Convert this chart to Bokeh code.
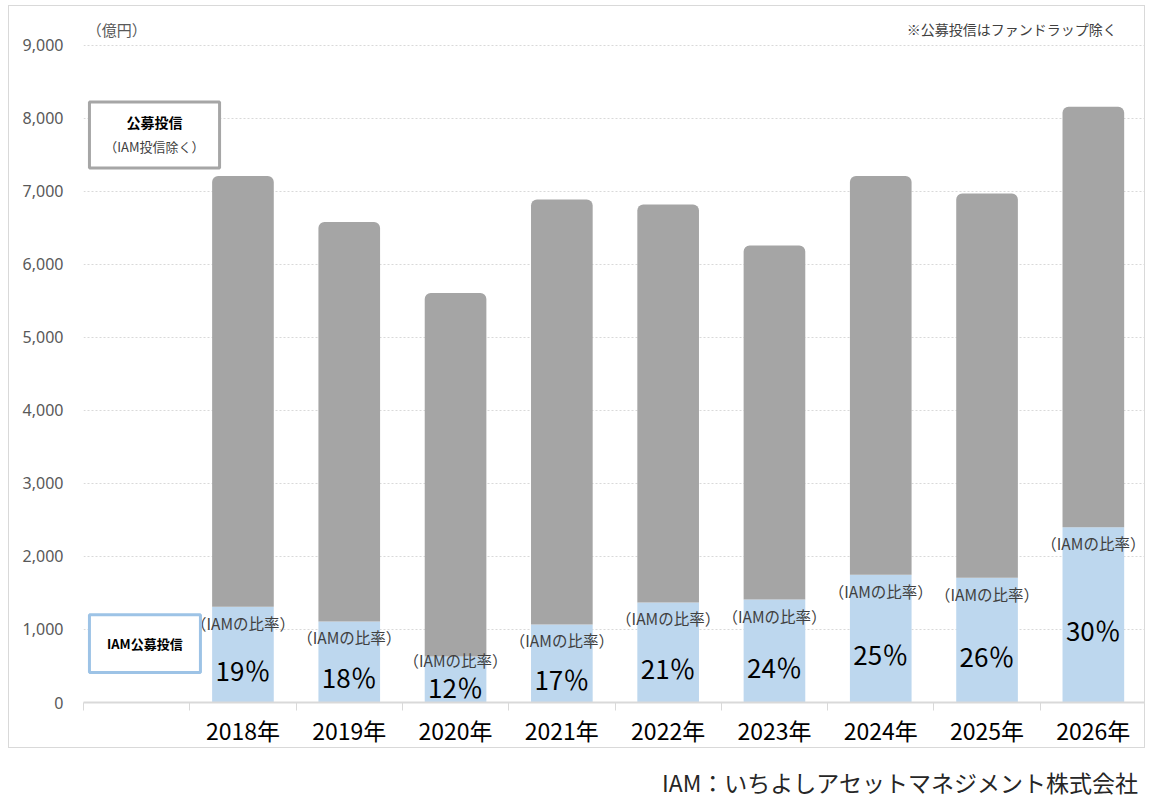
import numpy as np
from bokeh.plotting import figure
from bokeh.models import (Range1d, FixedTicker, NumeralTickFormatter, BoxAnnotation,
                          Label, ColumnDataSource)
from bokeh.layouts import column
from bokeh.embed import file_html
from bokeh.resources import INLINE
from bokeh.core.properties import value

# ---------------- data ----------------
years = ["2018年", "2019年", "2020年", "2021年", "2022年", "2023年", "2024年", "2025年", "2026年"]
iam_funds = [1310, 1110, 630, 1070, 1370, 1410, 1750, 1710, 2400]          # IAM公募投信 (億円)
other_funds = [5900, 5470, 4980, 5820, 5450, 4850, 5460, 5260, 5760]       # 公募投信（IAM投信除く）
iam_share = [19, 18, 12, 17, 21, 24, 25, 26, 30]                            # IAMの比率 (%)
y_ticks = [0, 1000, 2000, 3000, 4000, 5000, 6000, 7000, 8000, 9000]

JP = "Noto Sans CJK JP"
GRAY = "#a5a5a5"
BLUE = "#bdd7ee"

n_slots = len(years) + 1   # first category slot is empty
x = np.arange(1, n_slots) + 0.5
iam = np.array(iam_funds, dtype=float)
total = iam + np.array(other_funds, dtype=float)

# label anchors: percentage in the middle of the blue bar (kept above the axis),
# "(IAMの比率)" just under the blue top (kept clear of the percentage)
pct_y = np.maximum(iam / 2, 420)
ratio_y = np.maximum(iam, pct_y + 386)

src = ColumnDataSource(dict(
    x=x, iam=iam, total=total, pct_y=pct_y, ratio_y=ratio_y,
    ratio=["（IAMの比率）"] * len(years),
    pct=[f"{v}％" for v in iam_share],
))

p = figure(width=1137, height=743, output_backend="svg", toolbar_location=None,
           x_range=Range1d(0, n_slots), y_range=Range1d(0, 9464),
           min_border_left=74, min_border_right=0, min_border_top=5, min_border_bottom=45,
           outline_line_color=None, background_fill_color="white", border_fill_color="white")
p.margin = (5, 0, 0, 8)
p.styles = {"border": "1px solid #d9d9d9"}

# bars
p.vbar(x="x", top="iam", bottom=0, width=0.58, source=src, fill_color=BLUE, line_color=None)
p.vbar(x="x", top="total", bottom="iam", width=0.58, source=src, fill_color=GRAY,
       line_color=None, border_radius=(6, 6, 0, 0))

# labels on bars
p.text(x="x", y="ratio_y", text="ratio", source=src, text_align="center", text_baseline="middle",
       y_offset=16, text_font=value(JP), text_font_size="15.5px", text_color="#404040")
p.text(x="x", y="pct_y", text="pct", source=src, text_align="center", text_baseline="middle",
       y_offset=15, text_font=value(JP), text_font_size="26px", text_color="#000000")

# axes
xa = p.xaxis[0]
xa.ticker = FixedTicker(ticks=list(x), minor_ticks=list(np.arange(0, n_slots + 1)))
xa.major_label_overrides = {float(xx): yr for xx, yr in zip(x, years)}
xa.major_tick_line_color = None
xa.major_tick_out = 0
xa.major_tick_in = 0
xa.minor_tick_in = 0
xa.minor_tick_out = 8
xa.minor_tick_line_color = "#d9d9d9"
xa.axis_line_color = "#d9d9d9"
xa.axis_line_width = 2
xa.major_label_standoff = 2
xa.major_label_text_font = JP
xa.major_label_text_font_size = "23px"
xa.major_label_text_color = "#000000"

ya = p.yaxis[0]
ya.ticker = FixedTicker(ticks=y_ticks)
ya.formatter = NumeralTickFormatter(format="0,0")
ya.axis_line_color = None
ya.major_tick_line_color = None
ya.minor_tick_line_color = None
ya.major_tick_out = 0
ya.major_label_standoff = 20
ya.major_label_text_font = "Noto Sans"
ya.major_label_text_font_size = "16px"
ya.major_label_text_color = "#595959"

p.xgrid.grid_line_color = None
p.ygrid.grid_line_color = "#d9d9d9"
p.ygrid.grid_line_dash = "2 2"

# unit and note
p.add_layout(Label(x=0.03, y=9221, text="（億円）", text_font=JP, text_font_size="15px",
                   text_color="#595959", text_baseline="middle", text_align="left"))
p.add_layout(Label(x=9.72, y=9221, text="※公募投信はファンドラップ除く", text_font=JP,
                   text_font_size="14px", text_color="#404040", text_baseline="middle",
                   text_align="right"))

# legend boxes
p.add_layout(BoxAnnotation(left=0.056, right=1.28, bottom=7322, top=8224, fill_color="white",
                           fill_alpha=1, line_color="#a6a6a6", line_width=3, line_alpha=1))
p.add_layout(Label(x=0.667, y=7951, text="公募投信", text_font=JP, text_font_size="14px",
                   text_font_style="bold", text_color="#000000", text_align="center",
                   text_baseline="middle"))
p.add_layout(Label(x=0.667, y=7609, text="（IAM投信除く）", text_font=JP, text_font_size="13px",
                   text_color="#404040", text_align="center", text_baseline="middle"))
p.add_layout(BoxAnnotation(left=0.056, right=1.10, bottom=410, top=1202, fill_color="white",
                           fill_alpha=1, line_color="#9dc3e6", line_width=3, line_alpha=1))
p.add_layout(Label(x=0.577, y=806, text="IAM公募投信", text_font=JP, text_font_size="13px",
                   text_font_style="bold", text_color="#000000", text_align="center",
                   text_baseline="middle"))

# footer
f = figure(width=1150, height=50, output_backend="svg", toolbar_location=None,
           x_range=Range1d(0, 1150), y_range=Range1d(0, 50),
           min_border_left=0, min_border_right=0, min_border_top=0, min_border_bottom=0,
           x_axis_type=None, y_axis_type=None, outline_line_color=None)
f.grid.visible = False
f.add_layout(Label(x=1137, y=17,
                   text="IAM：いちよしアセットマネジメント株式会社", text_font=JP,
                   text_font_size="23px", text_color="#262626", text_align="right",
                   text_baseline="middle"))

layout = column(p, f, spacing=0)
open("out.html", "w").write(file_html(layout, INLINE))
